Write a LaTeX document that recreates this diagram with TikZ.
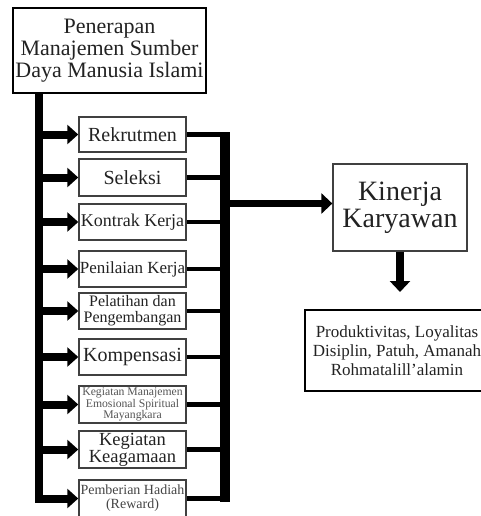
\documentclass[tikz,border=0pt]{standalone}
\usepackage{fontspec}
\setmainfont{Liberation Serif}
\usetikzlibrary{arrows.meta}
\definecolor{boxgray}{HTML}{404040}
\definecolor{txt}{HTML}{222222}
\definecolor{txtlight}{HTML}{555555}
\newcommand\myfs[2]{\fontsize{#1}{#2}\selectfont}
\begin{document}
\begin{tikzpicture}[x=1pt,y=-1pt,
  box/.style={draw=boxgray,line width=1.5pt,align=center,inner sep=0pt,
    minimum width=107pt,minimum height=36pt,text=txt},
  fat/.style={line width=8pt,line join=miter,-{Triangle[length=11pt,width=19pt]}},
  link/.style={line width=4.5pt},
  bar/.style={line width=10pt},
]
\useasboundingbox (0,0) rectangle (481,516);
\clip (0,0) rectangle (481,516);

% top box
\node[draw=black,line width=2pt,align=center,inner sep=0pt,minimum width=193pt,
  minimum height=85pt,text=txt,font=\myfs{22}{22}] (top) at (109.5,50.5)
  {Penerapan\\Manajemen Sumber\\Daya Manusia Islami};

% stage boxes
\node[box,minimum height=35pt,font=\myfs{20}{20}] (rek) at (132.5,134.5) {Rekrutmen};
\node[box,minimum height=37pt,font=\myfs{20}{20}] (sel) at (132.5,177.5) {Seleksi};
\node[box,font=\myfs{18}{18}] (kon) at (132.5,222) {Kontrak Kerja};
\node[box,font=\myfs{17}{17}] (pen) at (132.5,269) {Penilaian Kerja};
\node[box,font=\myfs{16}{16}] (pel) at (132.5,311) {Pelatihan dan\\Pengembangan};
\node[box,font=\myfs{20}{20}] (kom) at (132.5,357) {Kompensasi};
\node[box,minimum height=37pt,font=\myfs{11.7}{11.5},text=txtlight] (kem) at (132.5,404.5)
  {Kegiatan Manajemen\\Emosional Spiritual\\Mayangkara};
\node[box,minimum height=37pt,font=\myfs{18.5}{17}] (kea) at (132.5,449.5) {Kegiatan\\Keagamaan};
\node[box,minimum height=37pt,font=\myfs{14}{14},text=txtlight!80!black] (had) at (132.5,498.5)
  {Pemberian Hadiah\\(Reward)};

% right side boxes
\node[draw=boxgray,line width=1.3pt,align=center,inner sep=0pt,minimum width=134pt,
  minimum height=87pt,text=txt,font=\myfs{28}{27}] (kin) at (400,207.5) {Kinerja\\Karyawan};
\node[draw=black,line width=1.8pt,align=center,inner sep=0pt,minimum width=184pt,
  minimum height=81pt,text=txt,font=\myfs{17}{19}] (res) at (397,350.5)
  {Produktivitas, Loyalitas\\Disiplin, Patuh, Amanah\\Rohmatalill'alamin};

% coordinates
\coordinate (L) at (39,0);
\coordinate (R) at (225,0);
\coordinate (Rt) at (225,132);
\coordinate (Rb) at (225,502);
\coordinate (J) at (225,203.5);
\coordinate (D) at (400,292);

% left bar with arrows
\draw[fat] (L |- top.south) -- (L |- had.west) -- (had.west);
\foreach \n in {rek,sel,kon,pen,pel,kom,kem,kea}
  \draw[fat] (L |- \n.west) -- (\n.west);

% right collector
\foreach \n in {rek,sel,kon,pen,pel,kom,kem,kea,had}
  \draw[link] (\n.east) -- (R |- \n.east);
\draw[bar] (Rt) -- (Rb);
\draw[line width=7pt,-{Triangle[length=11pt,width=20pt]}] (J) -- (J -| kin.west);

% down arrow
\draw[line width=8pt,-{Triangle[length=11pt,width=20pt]}] (kin.south) -- (D);
\end{tikzpicture}
\end{document}
